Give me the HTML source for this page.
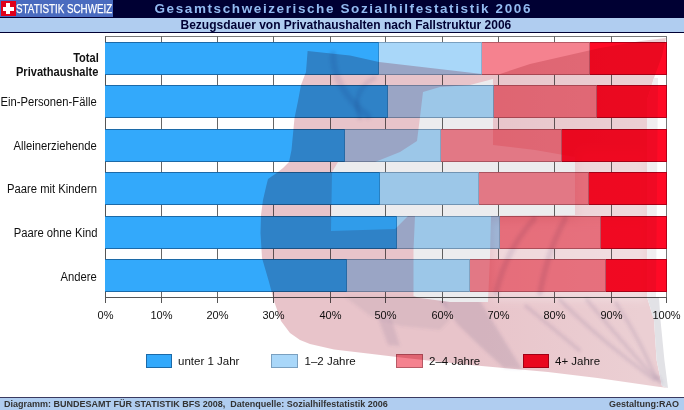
<!DOCTYPE html>
<html><head><meta charset="utf-8">
<style>
*{margin:0;padding:0;box-sizing:border-box}
html,body{width:684px;height:410px;overflow:hidden;background:#fff}
body{position:relative;font-family:"Liberation Sans",sans-serif;color:#111}
.a{position:absolute}
#hdr{left:0;top:0;width:684px;height:17px;background:#000033}
#logo{left:0;top:0;width:113px;height:17px;background:#4a6bbf}
#flagsq{left:1px;top:1px;width:15px;height:15px;background:#e0001a}
#sub{left:0;top:17px;width:684px;height:16px;background:#b0cdf0;border-top:1px solid #000033;border-bottom:1px solid #000033}
.t{white-space:nowrap;line-height:1}
#plot{left:105px;top:36px;width:562px;height:262px;border-top:1px solid #777;border-left:1px solid #555;border-bottom:1px solid #555;border-right:1px solid #777}
.g{top:36px;width:1px;height:262px;background:#666}
.bar{height:33px}
.s{position:absolute;top:0;height:33px}
.b1{background:#33a9fb;border-top:1px solid #1c6aa8;border-bottom:1px solid #1c6aa8;border-right:1px solid #2a8ad0}
.b2{background:#a9d7f9;border-top:1px solid #7aa0c0;border-bottom:1px solid #7aa0c0;border-right:1px solid #8ab0d0}
.b3{background:#f5828f;border-top:1px solid #b85a66;border-bottom:1px solid #b85a66;border-right:1px solid #c86070}
.b4{background:#ff0a26;border-top:1px solid #b00018;border-bottom:1px solid #b00018;border-right:1px solid #b00018}
.yl{font-size:12px;right:587px;transform:scaleX(0.937);transform-origin:100% 0}
.yl.b{font-weight:bold;right:585.5px;transform:scaleX(0.922)}
.xl{font-size:11px;top:309px;width:40px;text-align:center}
.tk{top:297px;width:1px;height:6px;background:#555}
.lb{top:354px;width:26px;height:14px}
.lt{font-size:11.5px;top:356px}
#ftr{left:0;top:397px;width:684px;height:13px;background:#b0cdf0;border-top:1px solid #3a3a60}
</style></head><body>
<div class="a" id="hdr"></div>
<div class="a" id="logo"></div>
<div class="a" id="flagsq"></div>
<div class="a" style="left:6px;top:3px;width:4px;height:11px;background:#fff"></div>
<div class="a" style="left:3px;top:7px;width:11px;height:4px;background:#fff"></div>
<div class="a t" style="left:16px;top:1.5px;font-size:13.5px;color:#fff;transform:scaleX(0.728);transform-origin:0 0;-webkit-text-stroke:0.25px #fff">STATISTIK SCHWEIZ</div>
<div class="a t" style="left:154.5px;top:1.6px;font-size:13.5px;font-weight:bold;color:#92baf0;letter-spacing:1.6px">Gesamtschweizerische Sozialhilfestatistik 2006</div>
<div class="a" id="sub"></div>
<div class="a t" style="left:180.5px;top:19px;font-size:12px;font-weight:bold;color:#000033">Bezugsdauer von Privathaushalten nach Fallstruktur 2006</div>

<div class="a" id="plot"></div>
<div class="a g" style="left:161px"></div>
<div class="a g" style="left:217px"></div>
<div class="a g" style="left:273px"></div>
<div class="a g" style="left:330px"></div>
<div class="a g" style="left:385px"></div>
<div class="a g" style="left:442px"></div>
<div class="a g" style="left:498px"></div>
<div class="a g" style="left:554px"></div>
<div class="a g" style="left:611px"></div>

<div class="a s b1" style="left:105px;top:42px;width:274px"></div>
<div class="a s b2" style="left:379px;top:42px;width:103px"></div>
<div class="a s b3" style="left:482px;top:42px;width:108px"></div>
<div class="a s b4" style="left:590px;top:42px;width:77px"></div>
<div class="a s b1" style="left:105px;top:85px;width:283px"></div>
<div class="a s b2" style="left:388px;top:85px;width:106px"></div>
<div class="a s b3" style="left:494px;top:85px;width:103px"></div>
<div class="a s b4" style="left:597px;top:85px;width:70px"></div>
<div class="a s b1" style="left:105px;top:129px;width:240px"></div>
<div class="a s b2" style="left:345px;top:129px;width:96px"></div>
<div class="a s b3" style="left:441px;top:129px;width:121px"></div>
<div class="a s b4" style="left:562px;top:129px;width:105px"></div>
<div class="a s b1" style="left:105px;top:172px;width:275px"></div>
<div class="a s b2" style="left:380px;top:172px;width:99px"></div>
<div class="a s b3" style="left:479px;top:172px;width:110px"></div>
<div class="a s b4" style="left:589px;top:172px;width:78px"></div>
<div class="a s b1" style="left:105px;top:216px;width:292px"></div>
<div class="a s b2" style="left:397px;top:216px;width:103px"></div>
<div class="a s b3" style="left:500px;top:216px;width:101px"></div>
<div class="a s b4" style="left:601px;top:216px;width:66px"></div>
<div class="a s b1" style="left:105px;top:259px;width:242px"></div>
<div class="a s b2" style="left:347px;top:259px;width:123px"></div>
<div class="a s b3" style="left:470px;top:259px;width:136px"></div>
<div class="a s b4" style="left:606px;top:259px;width:61px"></div>


<div class="a t yl b" style="top:52px">Total</div>
<div class="a t yl b" style="top:66px">Privathaushalte</div>
<div class="a t yl" style="top:96px">Ein-Personen-Fälle</div>
<div class="a t yl" style="top:140px">Alleinerziehende</div>
<div class="a t yl" style="top:183px">Paare mit Kindern</div>
<div class="a t yl" style="top:227px">Paare ohne Kind</div>
<div class="a t yl" style="top:271px">Andere</div>


<div class="a tk" style="left:105px"></div>
<div class="a tk" style="left:161px"></div>
<div class="a tk" style="left:217px"></div>
<div class="a tk" style="left:273px"></div>
<div class="a tk" style="left:330px"></div>
<div class="a tk" style="left:385px"></div>
<div class="a tk" style="left:442px"></div>
<div class="a tk" style="left:498px"></div>
<div class="a tk" style="left:554px"></div>
<div class="a tk" style="left:611px"></div>
<div class="a tk" style="left:666px"></div>
<div class="a xl" style="left:85.5px">0%</div>
<div class="a xl" style="left:141.5px">10%</div>
<div class="a xl" style="left:197.5px">20%</div>
<div class="a xl" style="left:253.5px">30%</div>
<div class="a xl" style="left:310.5px">40%</div>
<div class="a xl" style="left:365.5px">50%</div>
<div class="a xl" style="left:422.5px">60%</div>
<div class="a xl" style="left:478.5px">70%</div>
<div class="a xl" style="left:534.5px">80%</div>
<div class="a xl" style="left:591.5px">90%</div>
<div class="a xl" style="left:646.5px">100%</div>

<div class="a lb b1" style="left:146px;border:1px solid #1c6aa8"></div>
<div class="a t lt" style="left:178px">unter 1 Jahr</div>
<div class="a lb b2" style="left:271px;width:27px;border:1px solid #7aa0c0"></div>
<div class="a t lt" style="left:304.5px">1–2 Jahre</div>
<div class="a lb b3" style="left:396px;width:27px;border:1px solid #b85a66"></div>
<div class="a t lt" style="left:429px">2–4 Jahre</div>
<div class="a lb b4" style="left:523px;border:1px solid #b00018"></div>
<div class="a t lt" style="left:555px">4+ Jahre</div>

<svg class="a" style="left:0;top:0;mix-blend-mode:multiply" width="684" height="410" viewBox="0 0 684 410">
<defs><linearGradient id="fg" gradientUnits="userSpaceOnUse" x1="470" y1="0" x2="640" y2="0"><stop offset="0" stop-color="#e8c4ca"/><stop offset="1" stop-color="#ebcfd3"/></linearGradient></defs>
<path id="flag" fill="url(#fg)" d="M307.6,51 L350,55.6 L379,62 L482,74 L500,74 L530,64 L600,48 L641,41 L666,38 L662,56 L654,78 L647,100 L647,297 L654,320 L656.6,360 L662,386 L668,388 L656.5,386.6 L597.5,378 L548,372 L509,368.6 L460,364 L401,357.5 L372,354 L334,349.5 L310,344 L300,340 L290,333 L281,321 L274,301 L269,282 L262,258 L260.5,233 L261,215 L263,200 L266,187 L268,179 L278,172 L283,168 L289,162 L291.5,150 L293,134 L294.5,118 L298,101 L301,85 L306,72 Z"/>
<path id="strip" fill="#f0eef0" d="M654,78 L658,78 L656,297 L647,297 L647,100 Z"/>
<path id="strip2" fill="#e2e2e6" d="M647,297 L659,297 L660.5,320 L664.4,360 L668,388 L662,386 L656.6,360 L654,320 Z"/>
<filter id="bl2" x="-20%" y="-20%" width="140%" height="140%"><feGaussianBlur stdDeviation="4"/></filter>
<path filter="url(#bl2)" fill="#fff" fill-opacity="0.3" d="M492,222 L646,222 L646,300 L492,300 Z"/>
<path filter="url(#bl2)" fill="#fff" fill-opacity="0.2" d="M578,150 L646,150 L646,222 L578,222 Z"/>
<filter id="bl" x="-10%" y="-10%" width="120%" height="120%"><feGaussianBlur stdDeviation="1.6"/></filter>
<g id="folds" filter="url(#bl)">
<path fill="#5a4a78" fill-opacity="0.09" d="M345,297 L445,297 L450,320 L440,330 L400,326 L370,316 Z"/>
<path fill="#5a4a78" fill-opacity="0.15" d="M438,297 L478,297 L498,330 L522,369 L504,368 L482,348 L458,325 Z"/>
<path fill="#5a4a78" fill-opacity="0.12" d="M378,318 L392,320 L400,346 L388,345 Z"/>
<g fill="none" stroke="#5a4a78" stroke-opacity="0.13" stroke-width="4" stroke-linecap="round">
<path d="M560,300 Q590,330 626,358 T652,378"/>
<path d="M587,300 Q612,330 637,358 T658,377"/>
<path d="M616,303 Q634,330 647,358 T661,382"/>
<path d="M526,306 Q555,330 579,350"/>
<path d="M496,293 Q506,250 534,219" stroke-width="6"/>
<path d="M540,293 Q548,250 565,219" stroke-width="6"/>
<path d="M333,54 Q333,88 368,116" stroke-width="7"/>
<path d="M374,78 Q350,92 360,118" stroke-width="5"/>
</g>
</g>
<path id="cross" fill="#ececee" d="M423,92 L440,87 L470,85 L493,79 L493,145 L535,150 L575,157 L575,215 L491,216 L490,256 L488,302 L450,302 L420,298 L413.5,296 L413.5,250 L415,216 L408,216 L395,229 L331,231 L332,172 L338,162 L375,162 L400,152 L417,141 L420,117 Z"/>
</svg>
<div class="a" id="ftr"></div>
<div class="a t" style="left:4px;top:400px;font-size:9px;font-weight:bold;color:#333">Diagramm: BUNDESAMT FÜR STATISTIK BFS 2008,&nbsp; Datenquelle: Sozialhilfestatistik 2006</div>
<div class="a t" style="left:609px;top:400px;font-size:9px;font-weight:bold;color:#333">Gestaltung:RAO</div>
</body></html>
